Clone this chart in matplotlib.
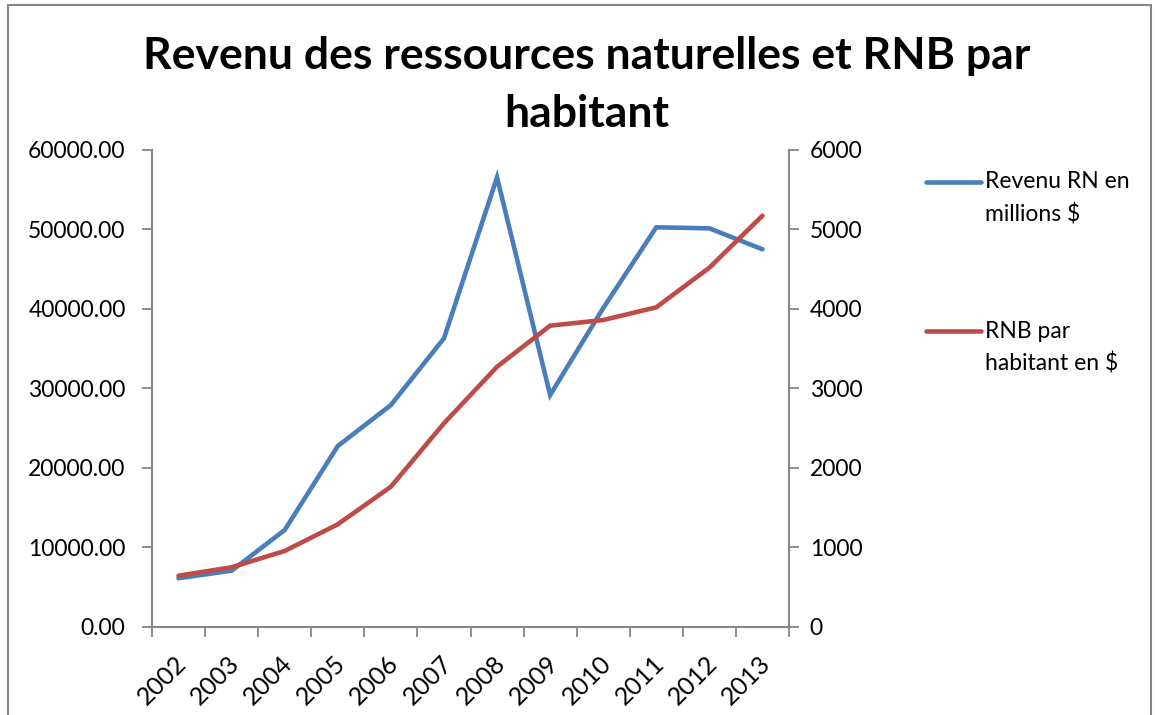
import matplotlib.pyplot as plt
from matplotlib.lines import Line2D
from matplotlib.patches import Rectangle
from matplotlib.transforms import ScaledTranslation
import numpy as np

years = ['2002', '2003', '2004', '2005', '2006', '2007',
         '2008', '2009', '2010', '2011', '2012', '2013']
revenu_rn = [6100, 7050, 12170, 22740, 27900, 36300,
             56560, 29160, 40100, 50270, 50140, 47500]
rnb_hab = [642, 748, 953, 1289, 1762, 2560,
           3272, 3789, 3860, 4020, 4519, 5173]

blue = '#4A7EBB'
red = '#BE4B48'
grey = '#868686'

plt.rcParams['font.family'] = ['Lato', 'DejaVu Sans']

fig = plt.figure(figsize=(11.55, 7.15), dpi=100)
ax = fig.add_axes([152/1155, 1 - 626.7/715, (789 - 152)/1155, (626.7 - 150)/715])
ax2 = ax.twinx()

x = np.arange(len(years))
ax.plot(x, revenu_rn, color=blue, lw=3.3, solid_capstyle='round', solid_joinstyle='miter')
ax2.plot(x, rnb_hab, color=red, lw=3.3, solid_capstyle='round', solid_joinstyle='miter')

ax.set_xlim(-0.5, len(years) - 0.5)
ax.set_ylim(0, 60000)
ax2.set_ylim(0, 6000)
ax.set_yticks(np.arange(0, 60001, 10000))
ax.set_yticklabels(['%.2f' % v for v in np.arange(0, 60001, 10000)])
ax2.set_yticks(np.arange(0, 6001, 1000))

ax.set_xticks(x)
ax.set_xticklabels(years, rotation=45, ha='right', rotation_mode='anchor')
ax.set_xticks(np.arange(-0.5, len(years)), minor=True)
ax.tick_params(axis='x', which='major', length=0, pad=18, labelsize=18)
ax.tick_params(axis='x', which='minor', length=7, color=grey, width=1.3)
ax.tick_params(axis='y', length=7, color=grey, width=1.3, labelsize=16.5, pad=12)
ax2.tick_params(axis='y', length=7, color=grey, width=1.3, labelsize=16.5, pad=8)
for lab in ax.get_xticklabels():
    lab.set_transform(lab.get_transform() + ScaledTranslation(-0.04, 0, fig.dpi_scale_trans))

for a in (ax, ax2):
    for s in a.spines.values():
        s.set_visible(False)
ax.spines['left'].set_visible(True)
ax.spines['bottom'].set_visible(True)
ax2.spines['right'].set_visible(True)
for s in (ax.spines['left'], ax.spines['bottom'], ax2.spines['right']):
    s.set_color(grey)
    s.set_linewidth(1.5)

fig.text(587/1155, 1 - 56/715, 'Revenu des ressources naturelles et RNB par',
         ha='center', va='center', fontsize=32, fontweight='bold')
fig.text(587/1155, 1 - 114/715, 'habitant',
         ha='center', va='center', fontsize=32, fontweight='bold')

# legend drawn by hand
fig.add_artist(Line2D([926/1155, 981/1155], [1 - 182/715, 1 - 182/715],
                      color=blue, lw=3.3, solid_capstyle='round'))
fig.add_artist(Line2D([926/1155, 981/1155], [1 - 331/715, 1 - 331/715],
                      color=red, lw=3.3, solid_capstyle='round'))
fig.text(985/1155, 1 - 182/715, 'Revenu RN en', va='center', fontsize=16.5)
fig.text(985/1155, 1 - 215/715, 'millions $', va='center', fontsize=16.5)
fig.text(985/1155, 1 - 331/715, 'RNB par', va='center', fontsize=16.5)
fig.text(985/1155, 1 - 364/715, 'habitant en $', va='center', fontsize=16.5)

fig.add_artist(Rectangle((8/1155, -0.1), 1143/1155, 1.1 - 5/715, transform=fig.transFigure,
                         fill=False, edgecolor=grey, lw=1.5))

fig.savefig('out.png', dpi=100)
